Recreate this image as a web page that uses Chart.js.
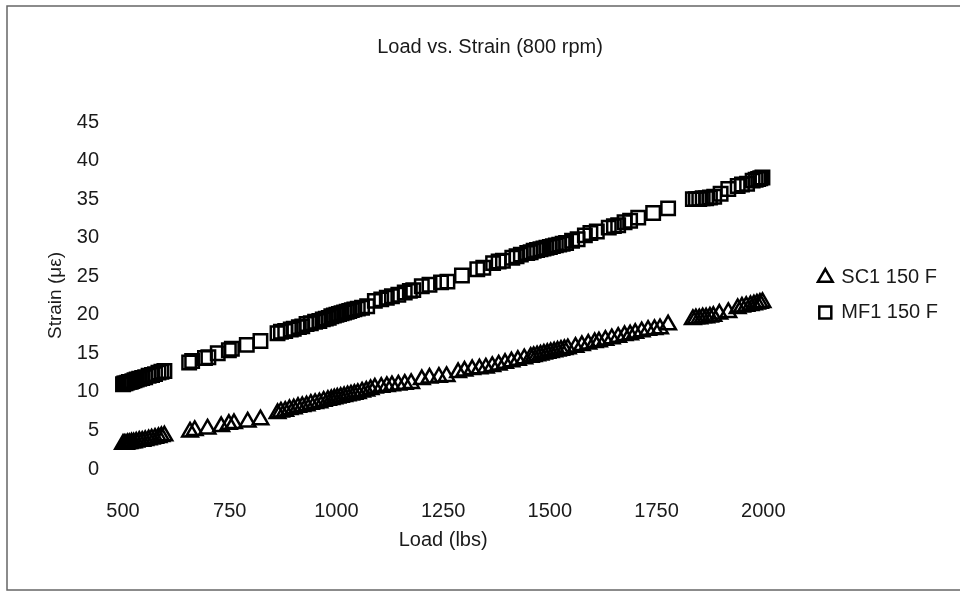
<!DOCTYPE html>
<html>
<head>
<meta charset="utf-8">
<script src="https://cdn.jsdelivr.net/npm/chart.js@4"></script>
<style>
  body { margin: 0; background: #fff; }
  #wrap { width: 960px; height: 592px; position: relative; }
</style>
</head>
<body>
<div id="wrap"><canvas id="load-strain-chart"></canvas></div>
<script>
// values
const sc1Load = [
  500, 503, 507, 511, 515, 520, 525, 531, 538, 545, 552, 560, 567, 575, 583, 590, 597,
  657, 668, 698, 730, 748, 760, 792, 822,
  862, 870, 880, 890, 900, 910, 920, 930, 940, 950, 960, 970, 980, 988, 995, 1002, 1010,
  1018, 1026, 1034, 1042, 1050, 1060, 1070, 1080,
  1090, 1105, 1118, 1130, 1145, 1160, 1175, 1200, 1218, 1240, 1258,
  1285, 1300, 1318, 1335, 1350, 1365, 1380, 1395, 1410, 1425, 1440,
  1455, 1462, 1470, 1478, 1486, 1494, 1502, 1510, 1518, 1526, 1534, 1542,
  1560, 1575, 1590, 1605, 1615, 1630, 1645, 1660, 1675, 1688,
  1700, 1715, 1730, 1745, 1758, 1777,
  1835, 1842, 1850, 1858, 1866, 1875, 1883, 1897, 1918,
  1940, 1950, 1960, 1970, 1978, 1985, 1992, 1998
];
const sc1Strain = [
  3.2, 3.2, 3.2, 3.3, 3.3, 3.4, 3.4, 3.5, 3.6, 3.6, 3.7, 3.8, 3.9, 4.0, 4.1, 4.2, 4.3,
  4.8, 5.0, 5.2, 5.5, 5.8, 5.9, 6.1, 6.4,
  7.2, 7.4, 7.5, 7.7, 7.8, 8.0, 8.1, 8.2, 8.4, 8.5, 8.6, 8.8, 8.9, 9.0, 9.1, 9.2, 9.3,
  9.4, 9.5, 9.6, 9.7, 9.8, 10.0, 10.1, 10.3,
  10.5, 10.6, 10.7, 10.8, 10.9, 11.0, 11.1, 11.6, 11.8, 11.9, 12.0,
  12.5, 12.7, 12.9, 13.0, 13.1, 13.3, 13.5, 13.7, 13.9, 14.1, 14.3,
  14.5, 14.6, 14.7, 14.8, 14.9, 15.0, 15.1, 15.2, 15.3, 15.4, 15.5, 15.6,
  15.8, 16.0, 16.2, 16.4, 16.5, 16.7, 16.9, 17.1, 17.3, 17.4,
  17.6, 17.8, 18.0, 18.1, 18.2, 18.7,
  19.4, 19.5, 19.5, 19.6, 19.6, 19.7, 19.8, 20.1, 20.3,
  20.8, 21.0, 21.1, 21.2, 21.3, 21.4, 21.5, 21.6
];

const mf1Load = [
  500, 503, 506, 510, 514, 518, 522, 527, 532, 538, 545, 552, 560, 568, 575, 583, 590, 597,
  655, 662, 692, 700, 722, 748, 755, 790, 822,
  862, 870, 880, 893, 900, 912, 920, 930, 940, 950, 960, 968, 975, 982, 988, 994, 1000,
  1006, 1012, 1018, 1024, 1030, 1036, 1042, 1050, 1060, 1072,
  1090, 1105, 1118, 1130, 1145, 1160, 1172, 1180, 1200, 1218,
  1245, 1260, 1294, 1330, 1344, 1367, 1380, 1390, 1412, 1422, 1432,
  1447, 1455, 1462, 1470, 1478, 1485, 1492, 1500, 1507, 1514, 1522, 1530, 1538,
  1552, 1565, 1582, 1595, 1610, 1638, 1650, 1660, 1675, 1688, 1707, 1742, 1777,
  1835, 1842, 1850, 1858, 1866, 1875, 1885, 1900, 1918, 1940, 1950, 1962,
  1975, 1982, 1988, 1993, 1998
];
const mf1Strain = [
  11.0, 11.1, 11.1, 11.2, 11.3, 11.3, 11.4, 11.5, 11.6, 11.7, 11.8, 11.9, 12.1, 12.2, 12.3, 12.5, 12.6, 12.7,
  13.8, 14.0, 14.4, 14.5, 15.0, 15.4, 15.6, 16.1, 16.6,
  17.6, 17.8, 17.9, 18.1, 18.2, 18.4, 18.5, 18.8, 18.9, 19.1, 19.2, 19.4, 19.5, 19.6, 19.8, 19.9, 20.0,
  20.1, 20.2, 20.3, 20.4, 20.5, 20.6, 20.7, 20.8, 20.9, 21.1,
  21.8, 22.0, 22.2, 22.4, 22.6, 22.9, 23.1, 23.2, 23.7, 23.9,
  24.2, 24.3, 25.1, 25.9, 26.1, 26.7, 26.9, 27.0, 27.4, 27.6, 27.8,
  28.0, 28.1, 28.3, 28.4, 28.5, 28.6, 28.7, 28.8, 28.9, 29.0, 29.1, 29.2, 29.3,
  29.6, 29.8, 30.3, 30.6, 30.8, 31.3, 31.5, 31.6, 32.0, 32.2, 32.6, 33.2, 33.8,
  35.0, 35.0, 35.0, 35.1, 35.1, 35.2, 35.3, 35.7, 36.3, 36.7, 36.9, 37.0,
  37.4, 37.5, 37.6, 37.7, 37.8
];

const xTicks = [500, 750, 1000, 1250, 1500, 1750, 2000];
const yTicks = [0, 5, 10, 15, 20, 25, 30, 35, 40, 45];

function makePoints(xs, ys) {
  return xs.map((x, i) => ({x: x, y: ys[i]}));
}

// frame round the whole chart, like the scanned page
const framePlugin = {
  id: 'frame',
  beforeDraw(chart) {
    const ctx = chart.ctx;
    ctx.save();
    ctx.strokeStyle = '#666';
    ctx.lineWidth = 1.5;
    ctx.strokeRect(7, 6, 1000, 584);
    ctx.restore();
  }
};

Chart.defaults.font.family = "'Liberation Sans', Arial, sans-serif";
Chart.defaults.font.size = 20;
Chart.defaults.color = '#1a1a1a';

const config = {
  type: 'scatter',
  data: {
    datasets: [{
      label: 'SC1 150 F',
      data: makePoints(sc1Load, sc1Strain),
      pointStyle: 'triangle',
      pointRadius: 9,
      pointBorderWidth: 2.5,
      borderColor: '#000',
      backgroundColor: 'rgba(0,0,0,0)',
      clip: false
    }, {
      label: 'MF1 150 F',
      data: makePoints(mf1Load, mf1Strain),
      pointStyle: 'rect',
      pointRadius: 9.5,
      pointBorderWidth: 2.5,
      borderColor: '#000',
      backgroundColor: 'rgba(0,0,0,0)',
      clip: false
    }]
  },
  options: {
    responsive: true,
    maintainAspectRatio: false,
    animation: false,
    layout: {
      padding: {left: 32, right: 12, top: 0, bottom: 2}
    },
    plugins: {
      title: {
        display: true,
        text: 'Load vs. Strain (800 rpm)',
        font: {size: 20, weight: 'normal'},
        padding: {top: 35, bottom: 63}
      },
      legend: {
        position: 'right',
        labels: {
          usePointStyle: true,
          boxWidth: 12,
          boxHeight: 12,
          padding: 15,
          font: {size: 20}
        }
      },
      tooltip: {enabled: false}
    },
    scales: {
      x: {
        type: 'linear',
        min: 500,
        max: 2000,
        afterBuildTicks: s => { s.ticks = xTicks.map(v => ({value: v})); },
        afterFit: s => { s.height = 121; },
        grid: {display: false},
        border: {display: false},
        ticks: {padding: 22, font: {size: 20}, callback: v => String(v)},
        title: {
          display: true,
          text: 'Load (lbs)',
          font: {size: 20},
          padding: {top: 0, bottom: 38}
        }
      },
      y: {
        min: 0,
        max: 45,
        afterBuildTicks: s => { s.ticks = yTicks.map(v => ({value: v})); },
        afterFit: s => { s.width = 91; },
        grid: {display: false},
        border: {display: false},
        ticks: {padding: 16, font: {size: 20}, callback: v => String(v)},
        title: {
          display: true,
          text: 'Strain (\u03bc\u03b5)',
          font: {size: 19},
          padding: {top: 12, bottom: 0}
        }
      },
      // empty right-hand spacer between plot and legend
      gap: {
        type: 'linear',
        position: 'right',
        display: true,
        afterFit: s => { s.width = 41; },
        grid: {display: false},
        border: {display: false},
        ticks: {display: false}
      }
    }
  },
  plugins: [framePlugin]
};

const loadStrainChart = new Chart(
  document.getElementById('load-strain-chart'),
  config
);
</script>
</body>
</html>
